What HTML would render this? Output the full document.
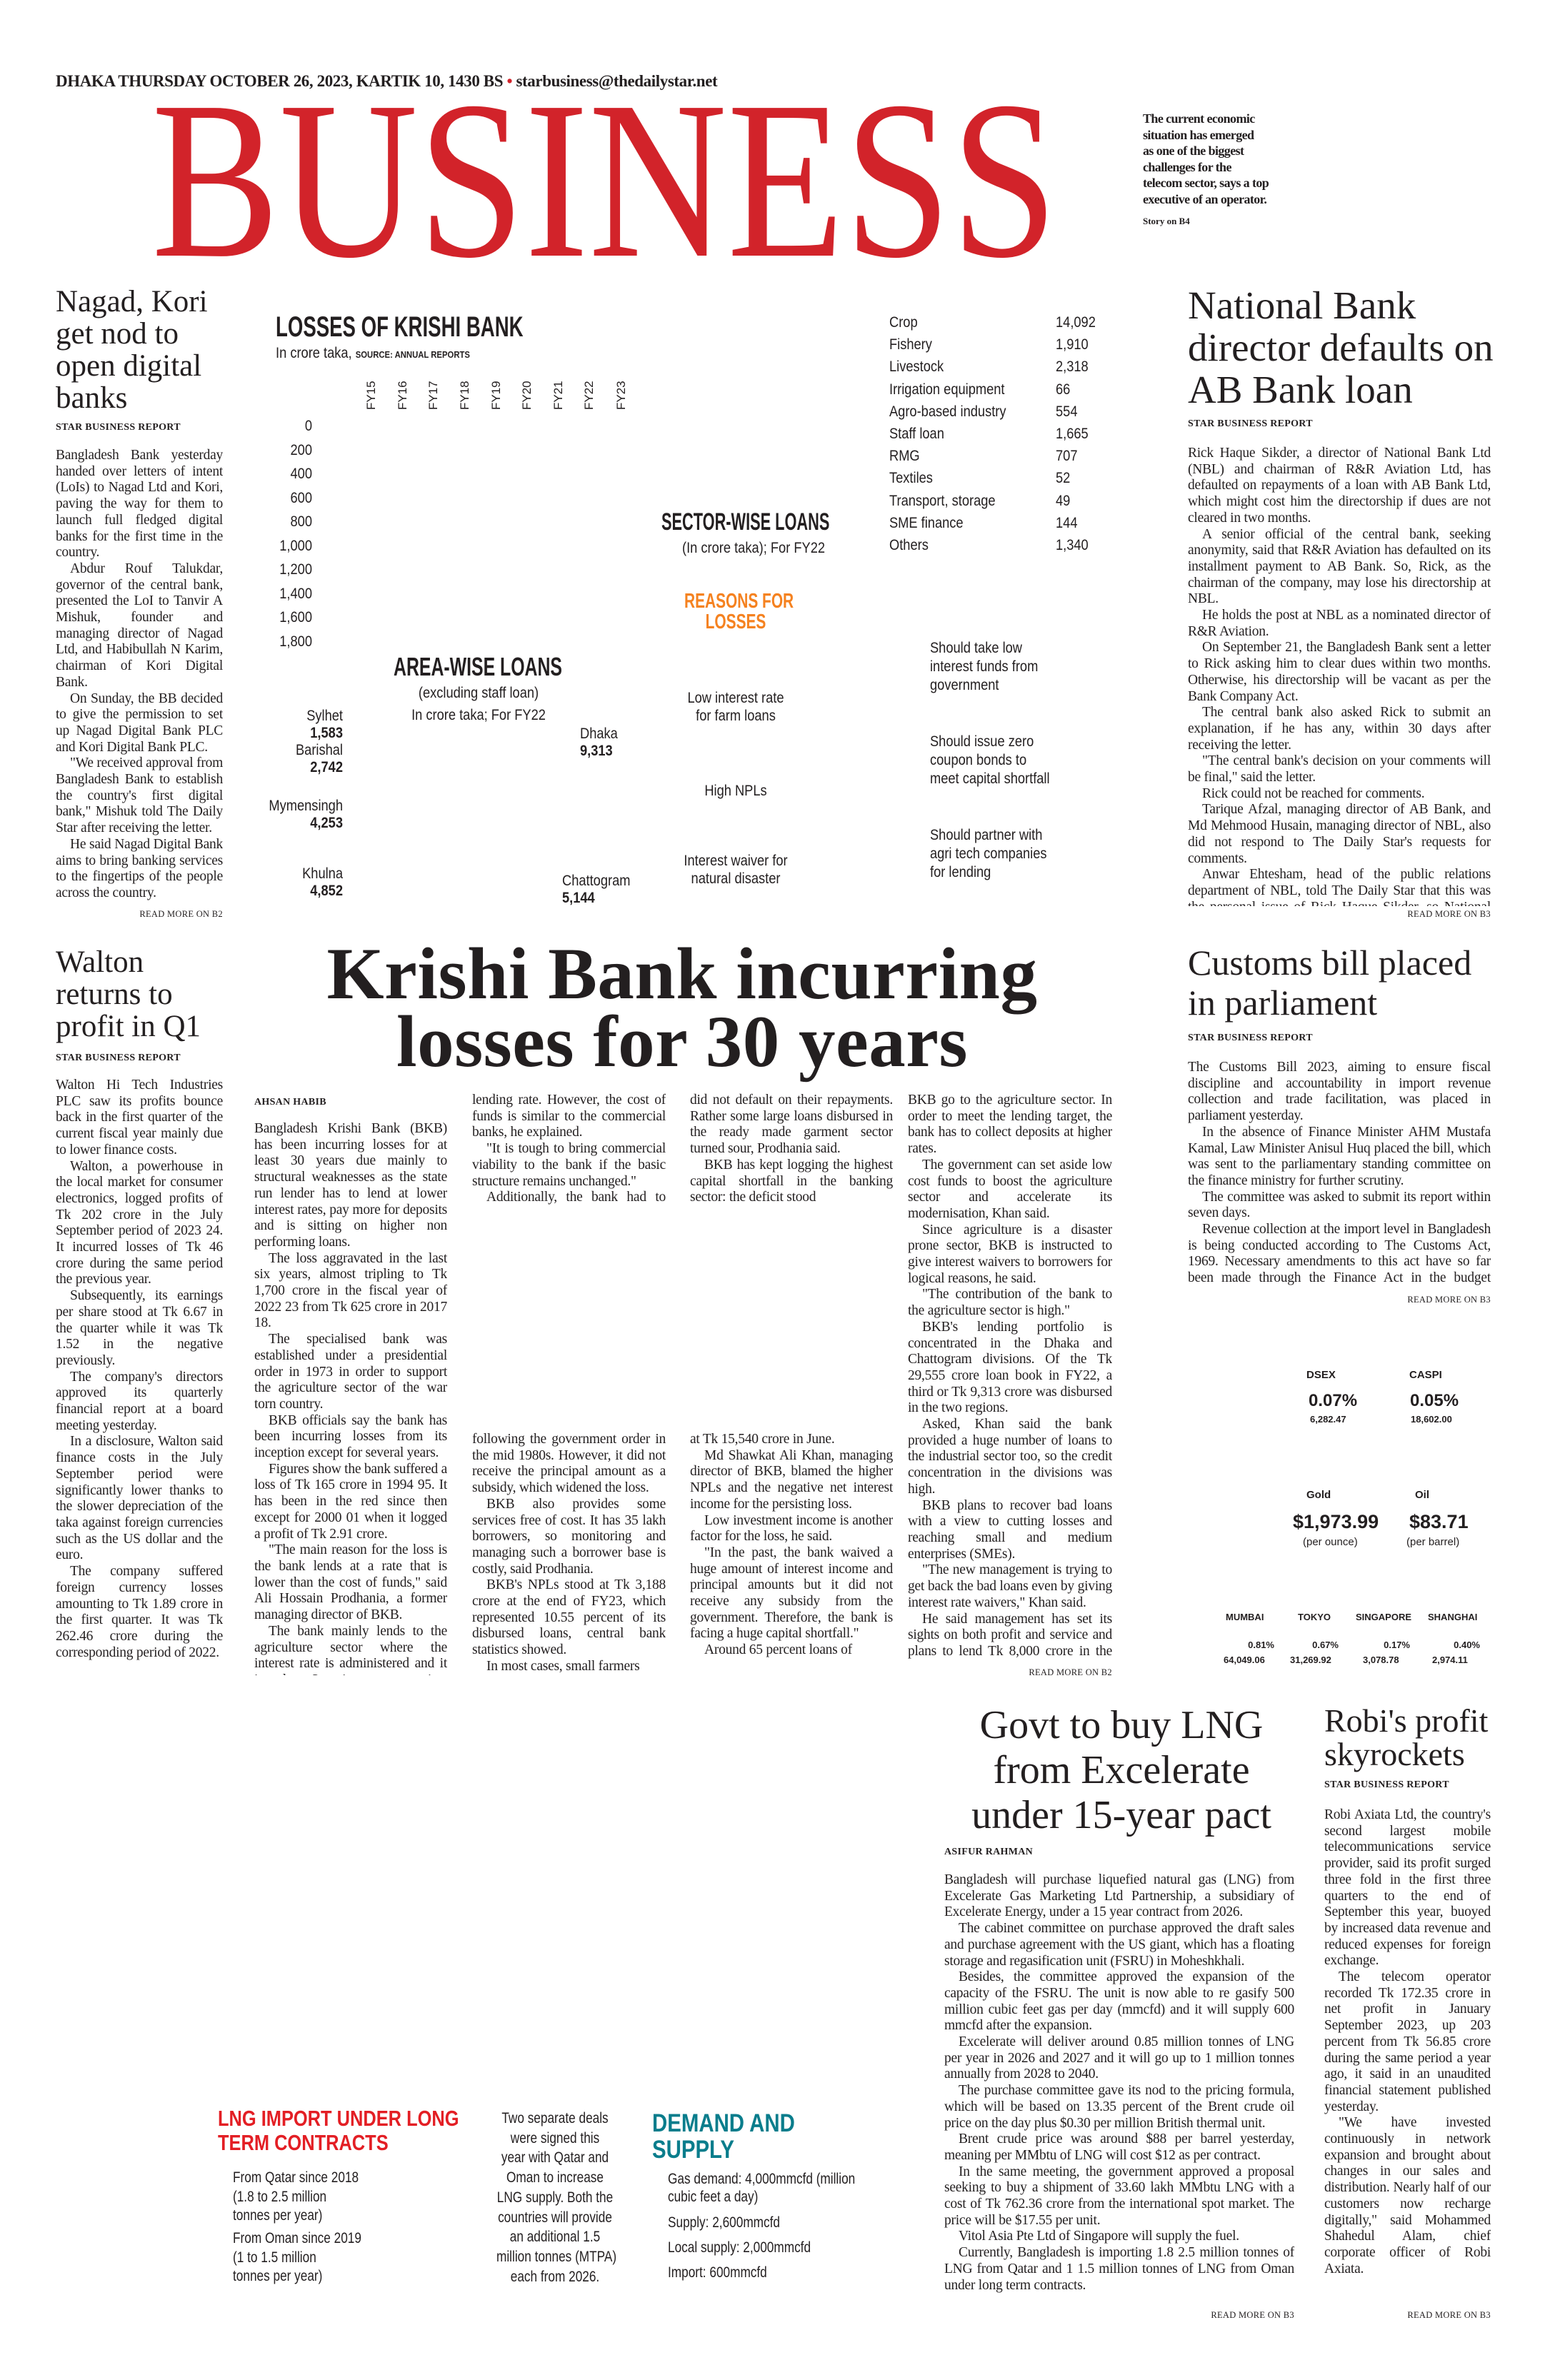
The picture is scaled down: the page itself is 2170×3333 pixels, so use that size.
<!DOCTYPE html>
<html><head><meta charset="utf-8">
<style>
*{margin:0;padding:0;box-sizing:border-box}
body{width:2170px;height:3333px;background:#fff;position:relative;overflow:hidden;font-family:"Liberation Serif",serif;color:#231f20}
.a{position:absolute}
.b{position:absolute;font-family:"Liberation Serif",serif;font-size:19.5px;line-height:22.7px;text-align:justify;overflow:hidden;color:#231f20;letter-spacing:-0.25px}
.b p{text-indent:20px}
.b p:first-child{text-indent:0}
.hl{position:absolute;font-family:"Liberation Serif",serif;font-weight:normal;color:#231f20}
.sbr{position:absolute;font-family:"Liberation Serif",serif;font-weight:bold;font-size:14px;letter-spacing:0.3px}
.rm{position:absolute;font-family:"Liberation Serif",serif;font-size:12.5px;text-align:right;letter-spacing:0.3px}
.n{font-family:"Liberation Sans Narrow","Liberation Sans",sans-serif}
.g{position:absolute;font-family:"Liberation Sans Narrow","Liberation Sans",sans-serif;font-size:21px;line-height:25px;color:#231f20;white-space:nowrap;transform:scaleX(0.87);transform-origin:left top}
.gr{transform-origin:right top}
.gc{transform-origin:center top}
.gt{position:absolute;font-family:"Liberation Sans Narrow","Liberation Sans",sans-serif;font-weight:bold;white-space:nowrap;transform-origin:left top}
.m{position:absolute;font-family:"Liberation Sans",sans-serif;font-weight:bold;color:#231f20;white-space:nowrap}
</style></head><body>

<div class="a" style="left:78px;top:101px;font-size:23px;font-weight:bold;letter-spacing:-0.4px;white-space:nowrap">DHAKA THURSDAY OCTOBER 26, 2023, KARTIK 10, 1430 BS <span style="color:#d2232a">•</span> starbusiness@thedailystar.net</div>

<div class="a" style="left:212px;top:92px;font-size:316px;line-height:320px;color:#d2232a;white-space:nowrap;transform:scaleX(0.85);transform-origin:left top">BUSINESS</div>

<div class="a" style="left:1600px;top:155px;font-size:18px;line-height:22.5px;font-weight:bold;letter-spacing:-0.6px;white-space:nowrap">The current economic<br>situation has emerged<br>as one of the biggest<br>challenges for the<br>telecom sector, says a top<br>executive of an operator.</div>
<div class="a" style="left:1600px;top:302px;font-size:13px;font-weight:bold">Story on B4</div>

<!-- Nagad -->
<div class="hl" style="left:78px;top:400px;width:240px;font-size:43px;line-height:45px">Nagad, Kori get nod to open digital banks</div>
<div class="sbr" style="left:78px;top:591px">STAR BUSINESS REPORT</div>
<div class="b" style="left:78px;top:627px;width:234px;height:645px">
<p>Bangladesh Bank yesterday handed over letters of intent (LoIs) to Nagad Ltd and Kori, paving the way for them to launch full fledged digital banks for the first time in the country.</p>
<p>Abdur Rouf Talukdar, governor of the central bank, presented the LoI to Tanvir A Mishuk, founder and managing director of Nagad Ltd, and Habibullah N Karim, chairman of Kori Digital Bank.</p>
<p>On Sunday, the BB decided to give the permission to set up Nagad Digital Bank PLC and Kori Digital Bank PLC.</p>
<p>"We received approval from Bangladesh Bank to establish the country's first digital bank," Mishuk told The Daily Star after receiving the letter.</p>
<p>He said Nagad Digital Bank aims to bring banking services to the fingertips of the people across the country.</p>
</div>
<div class="rm" style="left:150px;width:162px;top:1273px">READ MORE ON B2</div>

<!-- Graphic: losses -->
<div class="gt" style="left:386px;top:436px;font-size:40px;transform:scaleX(0.69)">LOSSES OF KRISHI BANK</div>
<div class="g" style="left:386px;top:482px;font-size:21px">In crore taka, <b style="font-family:'Liberation Sans',sans-serif;font-size:13px">SOURCE: ANNUAL REPORTS</b></div>
<div class="a n" style="left:510px;top:534px;font-size:17px">
<span class="a" style="left:0px;top:40px;transform:rotate(-90deg);transform-origin:left top">FY15</span>
<span class="a" style="left:44px;top:40px;transform:rotate(-90deg);transform-origin:left top">FY16</span>
<span class="a" style="left:87px;top:40px;transform:rotate(-90deg);transform-origin:left top">FY17</span>
<span class="a" style="left:131px;top:40px;transform:rotate(-90deg);transform-origin:left top">FY18</span>
<span class="a" style="left:175px;top:40px;transform:rotate(-90deg);transform-origin:left top">FY19</span>
<span class="a" style="left:218px;top:40px;transform:rotate(-90deg);transform-origin:left top">FY20</span>
<span class="a" style="left:262px;top:40px;transform:rotate(-90deg);transform-origin:left top">FY21</span>
<span class="a" style="left:305px;top:40px;transform:rotate(-90deg);transform-origin:left top">FY22</span>
<span class="a" style="left:350px;top:40px;transform:rotate(-90deg);transform-origin:left top">FY23</span>
</div>
<div class="a n" style="left:377px;top:580px;width:60px;text-align:right;font-size:21px;line-height:33.5px;transform:scaleX(0.87);transform-origin:right top">0<br>200<br>400<br>600<br>800<br>1,000<br>1,200<br>1,400<br>1,600<br>1,800</div>

<!-- Sector-wise -->
<div class="gt" style="left:926px;top:712px;font-size:34px;transform:scaleX(0.64)">SECTOR-WISE LOANS</div>
<div class="g" style="left:955px;top:755px">(In crore taka); For FY22</div>
<div class="g" style="left:1245px;top:436px;line-height:31.2px">Crop<br>Fishery<br>Livestock<br>Irrigation equipment<br>Agro-based industry<br>Staff loan<br>RMG<br>Textiles<br>Transport, storage<br>SME finance<br>Others</div>
<div class="g" style="left:1478px;top:436px;line-height:31.2px">14,092<br>1,910<br>2,318<br>66<br>554<br>1,665<br>707<br>52<br>49<br>144<br>1,340</div>

<!-- Reasons -->
<div class="gt" style="left:930px;width:200px;top:828px;font-size:29px;line-height:29px;color:#f58220;text-align:center;transform:scaleX(0.72);transform-origin:center top">REASONS FOR<br>LOSSES</div>
<div class="g gc" style="left:930px;width:200px;text-align:center;top:965px">Low interest rate<br>for farm loans</div>
<div class="g gc" style="left:930px;width:200px;text-align:center;top:1095px">High NPLs</div>
<div class="g gc" style="left:930px;width:200px;text-align:center;top:1193px">Interest waiver for<br>natural disaster</div>
<div class="g" style="left:1302px;top:895px;line-height:26px">Should take low<br>interest funds from<br>government</div>
<div class="g" style="left:1302px;top:1026px;line-height:26px">Should issue zero<br>coupon bonds to<br>meet capital shortfall</div>
<div class="g" style="left:1302px;top:1157px;line-height:26px">Should partner with<br>agri tech companies<br>for lending</div>

<!-- Area-wise -->
<div class="gt" style="left:551px;top:913px;font-size:36px;transform:scaleX(0.69)">AREA-WISE LOANS</div>
<div class="g gc" style="left:570px;width:200px;text-align:center;top:958px">(excluding staff loan)</div>
<div class="g gc" style="left:560px;width:220px;text-align:center;top:989px">In crore taka; For FY22</div>
<div class="g gr" style="left:330px;width:150px;text-align:right;top:991px;line-height:24px">Sylhet<br><b>1,583</b><br>Barishal<br><b>2,742</b></div>
<div class="g gr" style="left:330px;width:150px;text-align:right;top:1117px;line-height:24px">Mymensingh<br><b>4,253</b></div>
<div class="g gr" style="left:330px;width:150px;text-align:right;top:1212px;line-height:24px">Khulna<br><b>4,852</b></div>
<div class="g" style="left:812px;top:1016px;line-height:24px">Dhaka<br><b>9,313</b></div>
<div class="g" style="left:787px;top:1222px;line-height:24px">Chattogram<br><b>5,144</b></div>

<!-- National Bank -->
<div class="hl" style="left:1663px;top:398px;width:430px;font-size:55px;line-height:59px">National Bank director defaults on AB Bank loan</div>
<div class="sbr" style="left:1663px;top:586px">STAR BUSINESS REPORT</div>
<div class="b" style="left:1663px;top:624px;width:424px;height:645px">
<p>Rick Haque Sikder, a director of National Bank Ltd (NBL) and chairman of R&amp;R Aviation Ltd, has defaulted on repayments of a loan with AB Bank Ltd, which might cost him the directorship if dues are not cleared in two months.</p>
<p>A senior official of the central bank, seeking anonymity, said that R&amp;R Aviation has defaulted on its installment payment to AB Bank. So, Rick, as the chairman of the company, may lose his directorship at NBL.</p>
<p>He holds the post at NBL as a nominated director of R&amp;R Aviation.</p>
<p>On September 21, the Bangladesh Bank sent a letter to Rick asking him to clear dues within two months. Otherwise, his directorship will be vacant as per the Bank Company Act.</p>
<p>The central bank also asked Rick to submit an explanation, if he has any, within 30 days after receiving the letter.</p>
<p>"The central bank's decision on your comments will be final," said the letter.</p>
<p>Rick could not be reached for comments.</p>
<p>Tarique Afzal, managing director of AB Bank, and Md Mehmood Husain, managing director of NBL, also did not respond to The Daily Star's requests for comments.</p>
<p>Anwar Ehtesham, head of the public relations department of NBL, told The Daily Star that this was the personal issue of Rick Haque Sikder, so National Bank had nothing to comment on.</p>
</div>
<div class="rm" style="left:1900px;width:187px;top:1273px">READ MORE ON B3</div>

<!-- Walton -->
<div class="hl" style="left:78px;top:1325px;width:240px;font-size:43px;line-height:45px">Walton returns to profit in Q1</div>
<div class="sbr" style="left:78px;top:1474px">STAR BUSINESS REPORT</div>
<div class="b" style="left:78px;top:1509px;width:234px;height:840px">
<p>Walton Hi Tech Industries PLC saw its profits bounce back in the first quarter of the current fiscal year mainly due to lower finance costs.</p>
<p>Walton, a powerhouse in the local market for consumer electronics, logged profits of Tk 202 crore in the July September period of 2023 24. It incurred losses of Tk 46 crore during the same period the previous year.</p>
<p>Subsequently, its earnings per share stood at Tk 6.67 in the quarter while it was Tk 1.52 in the negative previously.</p>
<p>The company's directors approved its quarterly financial report at a board meeting yesterday.</p>
<p>In a disclosure, Walton said finance costs in the July September period were significantly lower thanks to the slower depreciation of the taka against foreign currencies such as the US dollar and the euro.</p>
<p>The company suffered foreign currency losses amounting to Tk 1.89 crore in the first quarter. It was Tk 262.46 crore during the corresponding period of 2022.</p>
</div>

<!-- Main headline -->
<div class="a" style="left:300px;width:1310px;top:1317px;text-align:center;font-size:103px;line-height:95px;font-weight:bold;white-space:nowrap;letter-spacing:0.5px">Krishi Bank incurring<br>losses for 30 years</div>
<div class="sbr" style="left:356px;top:1536px">AHSAN HABIB</div>
<div class="b" style="left:356px;top:1570px;width:270px;height:776px">
<p>Bangladesh Krishi Bank (BKB) has been incurring losses for at least 30 years due mainly to structural weaknesses as the state run lender has to lend at lower interest rates, pay more for deposits and is sitting on higher non performing loans.</p>
<p>The loss aggravated in the last six years, almost tripling to Tk 1,700 crore in the fiscal year of 2022 23 from Tk 625 crore in 2017 18.</p>
<p>The specialised bank was established under a presidential order in 1973 in order to support the agriculture sector of the war torn country.</p>
<p>BKB officials say the bank has been incurring losses from its inception except for several years.</p>
<p>Figures show the bank suffered a loss of Tk 165 crore in 1994 95. It has been in the red since then except for 2000 01 when it logged a profit of Tk 2.91 crore.</p>
<p>"The main reason for the loss is the bank lends at a rate that is lower than the cost of funds," said Ali Hossain Prodhania, a former managing director of BKB.</p>
<p>The bank mainly lends to the agriculture sector where the interest rate is administered and it is at least 3 to 4 percentage points lower than the commercial</p>
</div>
<div class="b" style="left:661px;top:1530px;width:271px;height:160px">
<p>lending rate. However, the cost of funds is similar to the commercial banks, he explained.</p>
<p>"It is tough to bring commercial viability to the bank if the basic structure remains unchanged."</p>
<p>Additionally, the bank had to give waivers to farm loans</p>
</div>
<div class="b" style="left:661px;top:2005px;width:271px;height:342px">
<p>following the government order in the mid 1980s. However, it did not receive the principal amount as a subsidy, which widened the loss.</p>
<p>BKB also provides some services free of cost. It has 35 lakh borrowers, so monitoring and managing such a borrower base is costly, said Prodhania.</p>
<p>BKB's NPLs stood at Tk 3,188 crore at the end of FY23, which represented 10.55 percent of its disbursed loans, central bank statistics showed.</p>
<p>In most cases, small farmers</p>
</div>
<div class="b" style="left:966px;top:1530px;width:284px;height:182px">
<p>did not default on their repayments. Rather some large loans disbursed in the ready made garment sector turned sour, Prodhania said.</p>
<p>BKB has kept logging the highest capital shortfall in the banking sector: the deficit stood</p>
</div>
<div class="b" style="left:966px;top:2005px;width:284px;height:342px">
<p>at Tk 15,540 crore in June.</p>
<p>Md Shawkat Ali Khan, managing director of BKB, blamed the higher NPLs and the negative net interest income for the persisting loss.</p>
<p>Low investment income is another factor for the loss, he said.</p>
<p>"In the past, the bank waived a huge amount of interest income and principal amounts but it did not receive any subsidy from the government. Therefore, the bank is facing a huge capital shortfall."</p>
<p>Around 65 percent loans of</p>
</div>
<div class="b" style="left:1271px;top:1530px;width:286px;height:798px">
<p>BKB go to the agriculture sector. In order to meet the lending target, the bank has to collect deposits at higher rates.</p>
<p>The government can set aside low cost funds to boost the agriculture sector and accelerate its modernisation, Khan said.</p>
<p>Since agriculture is a disaster prone sector, BKB is instructed to give interest waivers to borrowers for logical reasons, he said.</p>
<p>"The contribution of the bank to the agriculture sector is high."</p>
<p>BKB's lending portfolio is concentrated in the Dhaka and Chattogram divisions. Of the Tk 29,555 crore loan book in FY22, a third or Tk 9,313 crore was disbursed in the two regions.</p>
<p>Asked, Khan said the bank provided a huge number of loans to the industrial sector too, so the credit concentration in the divisions was high.</p>
<p>BKB plans to recover bad loans with a view to cutting losses and reaching small and medium enterprises (SMEs).</p>
<p>"The new management is trying to get back the bad loans even by giving interest rate waivers," Khan said.</p>
<p>He said management has set its sights on both profit and service and plans to lend Tk 8,000 crore in the SME sector.</p>
</div>
<div class="rm" style="left:1380px;width:177px;top:2335px">READ MORE ON B2</div>

<!-- Customs -->
<div class="hl" style="left:1663px;top:1320px;width:430px;font-size:50px;line-height:56px">Customs bill placed in parliament</div>
<div class="sbr" style="left:1663px;top:1446px">STAR BUSINESS REPORT</div>
<div class="b" style="left:1663px;top:1484px;width:424px;height:320px">
<p>The Customs Bill 2023, aiming to ensure fiscal discipline and accountability in import revenue collection and trade facilitation, was placed in parliament yesterday.</p>
<p>In the absence of Finance Minister AHM Mustafa Kamal, Law Minister Anisul Huq placed the bill, which was sent to the parliamentary standing committee on the finance ministry for further scrutiny.</p>
<p>The committee was asked to submit its report within seven days.</p>
<p>Revenue collection at the import level in Bangladesh is being conducted according to The Customs Act, 1969. Necessary amendments to this act have so far been made through the Finance Act in the budget session every year.</p>
</div>
<div class="rm" style="left:1900px;width:187px;top:1813px">READ MORE ON B3</div>

<!-- Markets -->
<div class="m" style="left:1829px;top:1917px;font-size:15px">DSEX</div>
<div class="m" style="left:1973px;top:1917px;font-size:15px">CASPI</div>
<div class="m" style="left:1832px;top:1948px;font-size:24px">0.07%</div>
<div class="m" style="left:1974px;top:1948px;font-size:24px">0.05%</div>
<div class="m" style="left:1834px;top:1980px;font-size:13px">6,282.47</div>
<div class="m" style="left:1975px;top:1980px;font-size:13px">18,602.00</div>
<div class="m" style="left:1829px;top:2085px;font-size:15px">Gold</div>
<div class="m" style="left:1981px;top:2085px;font-size:15px">Oil</div>
<div class="m" style="left:1810px;top:2116px;font-size:27px">$1,973.99</div>
<div class="m" style="left:1973px;top:2116px;font-size:27px">$83.71</div>
<div class="m" style="left:1824px;top:2151px;font-size:15px;font-weight:normal">(per ounce)</div>
<div class="m" style="left:1969px;top:2151px;font-size:15px;font-weight:normal">(per barrel)</div>
<div class="m" style="left:1716px;top:2257px;font-size:13px">MUMBAI</div>
<div class="m" style="left:1817px;top:2257px;font-size:13px">TOKYO</div>
<div class="m" style="left:1898px;top:2257px;font-size:13px">SINGAPORE</div>
<div class="m" style="left:1999px;top:2257px;font-size:13px">SHANGHAI</div>
<div class="m" style="left:1740px;width:44px;text-align:right;top:2296px;font-size:13px">0.81%</div>
<div class="m" style="left:1830px;width:44px;text-align:right;top:2296px;font-size:13px">0.67%</div>
<div class="m" style="left:1930px;width:44px;text-align:right;top:2296px;font-size:13px">0.17%</div>
<div class="m" style="left:2028px;width:44px;text-align:right;top:2296px;font-size:13px">0.40%</div>
<div class="m" style="left:1713px;top:2317px;font-size:13px">64,049.06</div>
<div class="m" style="left:1806px;top:2317px;font-size:13px">31,269.92</div>
<div class="m" style="left:1908px;top:2317px;font-size:13px">3,078.78</div>
<div class="m" style="left:2005px;top:2317px;font-size:13px">2,974.11</div>

<!-- LNG -->
<div class="hl" style="left:1300px;width:540px;top:2385px;text-align:center;font-size:56px;line-height:63px;white-space:nowrap">Govt to buy LNG<br>from Excelerate<br>under 15-year pact</div>
<div class="sbr" style="left:1322px;top:2586px">ASIFUR RAHMAN</div>
<div class="b" style="left:1322px;top:2622px;width:490px;height:612px">
<p>Bangladesh will purchase liquefied natural gas (LNG) from Excelerate Gas Marketing Ltd Partnership, a subsidiary of Excelerate Energy, under a 15 year contract from 2026.</p>
<p>The cabinet committee on purchase approved the draft sales and purchase agreement with the US giant, which has a floating storage and regasification unit (FSRU) in Moheshkhali.</p>
<p>Besides, the committee approved the expansion of the capacity of the FSRU. The unit is now able to re gasify 500 million cubic feet gas per day (mmcfd) and it will supply 600 mmcfd after the expansion.</p>
<p>Excelerate will deliver around 0.85 million tonnes of LNG per year in 2026 and 2027 and it will go up to 1 million tonnes annually from 2028 to 2040.</p>
<p>The purchase committee gave its nod to the pricing formula, which will be based on 13.35 percent of the Brent crude oil price on the day plus $0.30 per million British thermal unit.</p>
<p>Brent crude price was around $88 per barrel yesterday, meaning per MMbtu of LNG will cost $12 as per contract.</p>
<p>In the same meeting, the government approved a proposal seeking to buy a shipment of 33.60 lakh MMbtu LNG with a cost of Tk 762.36 crore from the international spot market. The price will be $17.55 per unit.</p>
<p>Vitol Asia Pte Ltd of Singapore will supply the fuel.</p>
<p>Currently, Bangladesh is importing 1.8 2.5 million tonnes of LNG from Qatar and 1 1.5 million tonnes of LNG from Oman under long term contracts.</p>
</div>
<div class="rm" style="left:1620px;width:192px;top:3235px">READ MORE ON B3</div>

<!-- Robi -->
<div class="hl" style="left:1854px;top:2386px;width:240px;font-size:46px;line-height:47px">Robi's profit skyrockets</div>
<div class="sbr" style="left:1854px;top:2492px">STAR BUSINESS REPORT</div>
<div class="b" style="left:1854px;top:2531px;width:233px;height:703px">
<p>Robi Axiata Ltd, the country's second largest mobile telecommunications service provider, said its profit surged three fold in the first three quarters to the end of September this year, buoyed by increased data revenue and reduced expenses for foreign exchange.</p>
<p>The telecom operator recorded Tk 172.35 crore in net profit in January September 2023, up 203 percent from Tk 56.85 crore during the same period a year ago, it said in an unaudited financial statement published yesterday.</p>
<p>"We have invested continuously in network expansion and brought about changes in our sales and distribution. Nearly half of our customers now recharge digitally," said Mohammed Shahedul Alam, chief corporate officer of Robi Axiata.</p>
</div>
<div class="rm" style="left:1900px;width:187px;top:3235px">READ MORE ON B3</div>

<!-- LNG graphic -->
<div class="gt" style="left:305px;top:2950px;font-size:31px;line-height:34px;color:#e31e24;transform:scaleX(0.82)">LNG IMPORT UNDER LONG<br>TERM CONTRACTS</div>
<div class="g" style="left:326px;top:3037px;line-height:26.5px;transform:scaleX(0.82)">From Qatar since 2018<br>(1.8 to 2.5 million<br>tonnes per year)</div>
<div class="g" style="left:326px;top:3122px;line-height:26.5px;transform:scaleX(0.82)">From Oman since 2019<br>(1 to 1.5 million<br>tonnes per year)</div>
<div class="g gc" style="left:677px;width:200px;text-align:center;top:2953px;line-height:27.7px;transform:scaleX(0.82)">Two separate deals<br>were signed this<br>year with Qatar and<br>Oman to increase<br>LNG supply. Both the<br>countries will provide<br>an additional 1.5<br>million tonnes (MTPA)<br>each from 2026.</div>
<div class="gt" style="left:913px;top:2955px;font-size:35px;line-height:37px;color:#0a7d8c;transform:scaleX(0.84)">DEMAND AND<br>SUPPLY</div>
<div class="g" style="left:935px;top:3039px;line-height:25px;transform:scaleX(0.82)">Gas demand: 4,000mmcfd (million<br>cubic feet a day)</div>
<div class="g" style="left:935px;top:3100px;transform:scaleX(0.82)">Supply: 2,600mmcfd</div>
<div class="g" style="left:935px;top:3135px;transform:scaleX(0.82)">Local supply: 2,000mmcfd</div>
<div class="g" style="left:935px;top:3170px;transform:scaleX(0.82)">Import: 600mmcfd</div>

</body></html>
